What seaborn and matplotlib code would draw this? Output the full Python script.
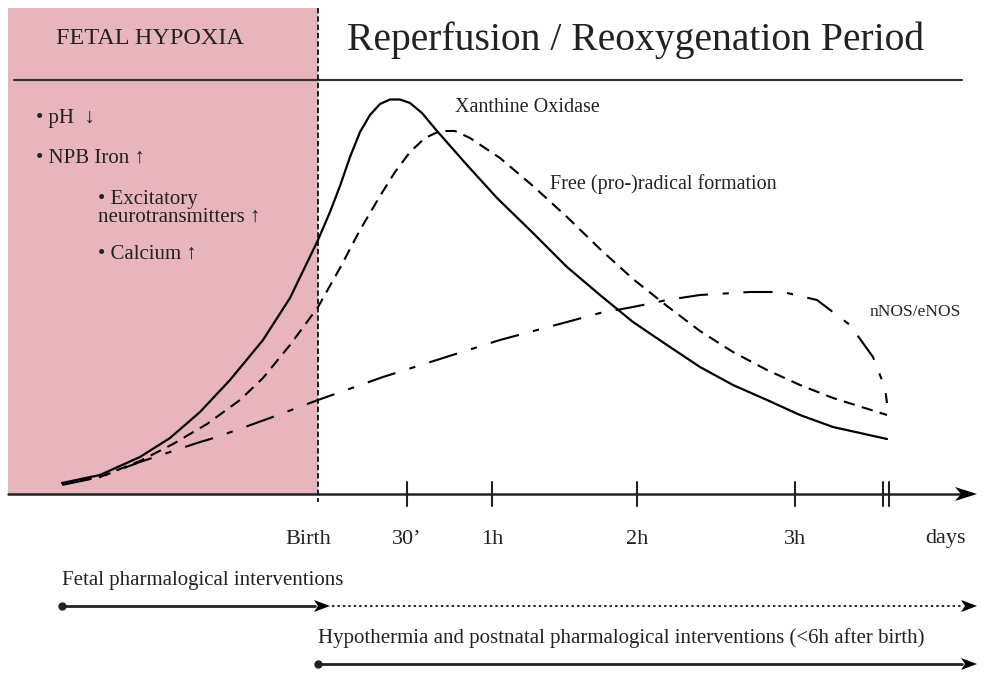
import matplotlib
matplotlib.use("Agg")
import matplotlib.pyplot as plt
import seaborn as sns
import pandas as pd

sns.set_theme(style="white")
plt.rcParams['font.family'] = ['Liberation Serif', 'DejaVu Serif']

# ---- data (schematic positions on the diagram) ----
xo_x = [62, 100, 140, 170, 200, 230, 263, 290, 318, 330, 340, 350, 360, 370, 380, 390,
        400, 410, 422, 437, 467, 497, 533, 567, 600, 633, 667, 700, 733, 767, 800, 833, 887]
xo_y = [483, 475, 457, 438, 412, 380, 340, 298, 240, 212, 186, 157, 132, 115, 104, 99.5,
        99.5, 103, 113, 131, 165, 198, 233, 267, 295, 322, 345, 367, 385, 400, 415, 427, 439]

fr_x = [62, 100, 140, 173, 207, 240, 263, 290, 318, 340, 360, 380, 395, 410, 425, 440,
        455, 470, 500, 533, 567, 600, 633, 667, 700, 733, 767, 800, 833, 887]
fr_y = [484, 477, 461, 444, 424, 400, 378, 345, 307, 268, 230, 196, 172, 152, 138, 131,
        131, 138, 158, 186, 217, 249, 279, 306, 331, 352, 370, 385, 398, 415]

nos_x = [62, 100, 140, 170, 197, 217, 270, 318, 383, 500, 567, 600, 633, 667, 700, 750,
         783, 817, 850, 873, 885, 887]
nos_y = [485, 477, 462, 452, 443, 437, 418, 400, 377, 340, 322, 313, 307, 300, 295, 292,
         292, 300, 325, 357, 388, 403]

tick_pos = [407, 492, 637, 795]
tick_labels = ["Birth", "30\u2019", "1h", "2h", "3h", "days"]
tick_label_pos = [308, 407, 492, 637, 795, 945]
birth_x = 318

bullets = ["\u2022 pH  \u2193", "\u2022 NPB Iron \u2191",
           "\u2022 Excitatory\nneurotransmitters \u2191", "\u2022 Calcium \u2191"]

# ---- figure ----
fig = plt.figure(figsize=(9.9, 6.76), dpi=100)
ax = fig.add_axes([0, 0, 1, 1])

pink = "#e8b5bd"
ink = "#222222"
ax.add_patch(plt.Rectangle((8, 8), birth_x - 8, 486, color=pink, zorder=0, lw=0))

# header line & birth line
ax.plot([14, 962], [80, 80], color="#333333", lw=1.6, zorder=2)
ax.plot([birth_x, birth_x], [8, 502], color="#111111", lw=1.3, ls=(0, (3, 1.6)), zorder=3)

# curves
df_xo = pd.DataFrame({"x": xo_x, "y": xo_y})
df_fr = pd.DataFrame({"x": fr_x, "y": fr_y})
df_nos = pd.DataFrame({"x": nos_x, "y": nos_y})
sns.lineplot(data=df_xo, x="x", y="y", sort=False, color="black", lw=1.6, ax=ax, zorder=4)
sns.lineplot(data=df_fr, x="x", y="y", sort=False, color="black", lw=1.5,
             linestyle=(0, (5.5, 3.5)), ax=ax, zorder=4)
sns.lineplot(data=df_nos, x="x", y="y", sort=False, color="black", lw=1.5,
             linestyle=(0, (14, 7, 3, 7)), ax=ax, zorder=4)
ax.set_xlim(0, 990)
ax.set_ylim(676, 0)
ax.axis("off")


def arrowhead(xtip, y, length=22, half=7, notch=6):
    xs = [xtip, xtip - length, xtip - length + notch, xtip - length]
    ys = [y, y - half, y, y + half]
    ax.fill(xs, ys, color="black", lw=0, zorder=6)


# time axis
ax.plot([8, 962], [494, 494], color=ink, lw=1.8, zorder=5)
arrowhead(977, 494)
for t in tick_pos:
    ax.plot([t, t], [482, 506], color=ink, lw=1.5, zorder=5)
for t in (883, 889):
    ax.plot([t, t], [482, 506], color=ink, lw=1.5, zorder=5)
for lab, p in zip(tick_labels, tick_label_pos):
    ax.text(p, 539, lab, ha="center", va="center", fontsize=16, color=ink)

# titles
ax.text(150, 39, "FETAL HYPOXIA", ha="center", va="center", fontsize=17.5, color=ink)
ax.text(636, 40, "Reperfusion / Reoxygenation Period", ha="center", va="center",
        fontsize=28.5, color=ink)

# bullets
fs_b = 15
ax.text(36, 119, bullets[0], ha="left", va="center", fontsize=fs_b, color=ink)
ax.text(36, 158, bullets[1], ha="left", va="center", fontsize=fs_b, color=ink)
ax.text(98, 208, bullets[2], ha="left", va="center", fontsize=fs_b, color=ink,
        linespacing=0.9)
ax.text(98, 254, bullets[3], ha="left", va="center", fontsize=fs_b, color=ink)

# curve labels
ax.text(455, 107, "Xanthine Oxidase", ha="left", va="center", fontsize=14.5, color=ink)
ax.text(550, 184, "Free (pro-)radical formation", ha="left", va="center", fontsize=14.5,
        color=ink)
ax.text(870, 312, "nNOS/eNOS", ha="left", va="center", fontsize=12.5, color=ink)

# interventions
ax.text(62, 580, "Fetal pharmalogical interventions", ha="left", va="center",
        fontsize=15, color=ink)
ax.plot([62, 315], [606, 606], color=ink, lw=2, zorder=5)
arrowhead(330, 606, length=16, half=6, notch=4)
ax.plot([332, 962], [606, 606], color=ink, lw=1.4, ls=(0, (1.2, 1.6)), zorder=5)
arrowhead(977, 606, length=16, half=6, notch=4)
ax.plot([62], [606], marker="o", ms=5, color=ink, zorder=6)

ax.text(318, 638, "Hypothermia and postnatal pharmalogical interventions (<6h after birth)",
        ha="left", va="center", fontsize=15, color=ink)
ax.plot([318, 962], [664, 664], color=ink, lw=2, zorder=5)
arrowhead(977, 664, length=16, half=6, notch=4)
ax.plot([318], [664], marker="o", ms=5, color=ink, zorder=6)

fig.savefig("out.png", dpi=100)
